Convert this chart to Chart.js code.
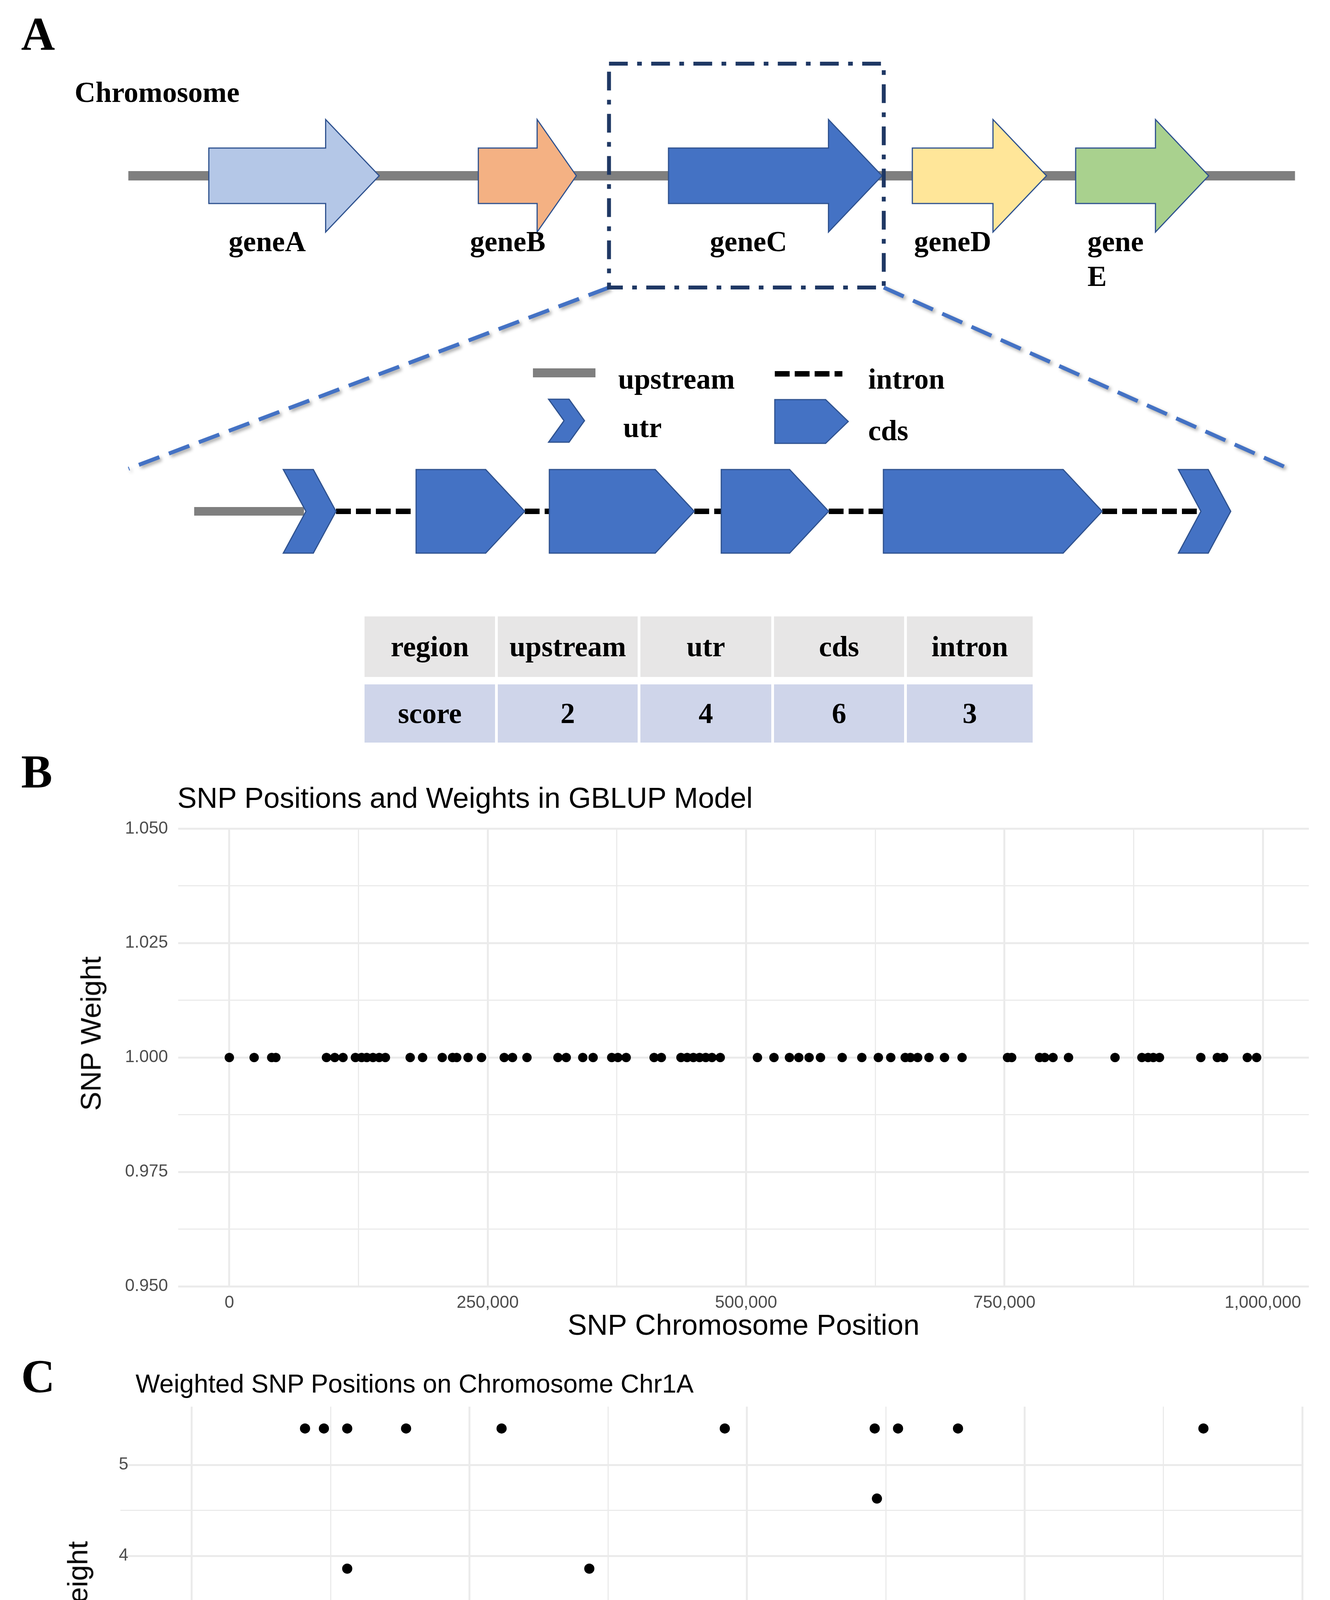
<!DOCTYPE html>
<html>
<head>
<meta charset="utf-8">
<title>SNP weights by region</title>
<script src="https://cdn.jsdelivr.net/npm/chart.js@4.4.1/dist/chart.umd.min.js"></script>
<style>
html,body{margin:0;padding:0;background:#fff;}
#page{position:relative;width:3404px;height:4992px;overflow:hidden;}
canvas{position:absolute;left:0;}
.lbl{position:absolute;font-family:"Liberation Serif","Times New Roman",serif;font-weight:bold;font-size:120px;line-height:1;color:#000;}
.ttl{position:absolute;font-family:"Liberation Sans",Arial,sans-serif;line-height:1;color:#000;white-space:nowrap;}
.ytl{position:absolute;font-family:"Liberation Sans",Arial,sans-serif;font-size:73px;line-height:1;color:#000;white-space:nowrap;transform:translate(-50%,-50%) rotate(-90deg);}
#tbl{position:absolute;left:933px;top:1578px;display:grid;grid-template-columns:334px 358px 335px 333px 322px;grid-template-rows:155px 149px;column-gap:7px;row-gap:19px;}
#tbl div{display:flex;align-items:center;justify-content:center;font-family:"Liberation Serif","Times New Roman",serif;font-weight:bold;font-size:74px;color:#000;}
#tbl .h{background:#e7e6e6;}
#tbl .s{background:#cfd5ea;}
</style>
</head>
<body>
<div id="page">
<canvas id="cA" width="3404" height="1500" style="top:0px"></canvas>
<canvas id="cB" width="3404" height="1384" style="top:2069px"></canvas>
<canvas id="cC" width="3404" height="1419" style="top:3561px"></canvas>
<div id="tbl"></div>
<div class="lbl" style="left:54px;top:27px">A</div>
<div class="lbl" style="left:54px;top:1916px">B</div>
<div class="lbl" style="left:54px;top:3464px">C</div>
<div class="ttl" style="left:454px;top:2006px;font-size:74px">SNP Positions and Weights in GBLUP Model</div>
<div class="ttl" style="left:347px;top:3509px;font-size:66px">Weighted SNP Positions on Chromosome Chr1A</div>
<div class="ytl" style="left:232px;top:2646px">SNP Weight</div>
<div class="ytl" style="left:198px;top:4143px">SNP Weight</div>
</div>
<script>
// ---- panel A: genes on the chromosome (kb) ----
const geneNames   = ['geneA', 'geneB', 'geneC', 'geneD', 'gene\nE'];
const geneStartKb = [6.9, 30.0, 46.3, 67.2, 81.2];
const geneEndKb   = [21.5, 38.4, 64.6, 78.7, 92.6];
const chromKb     = [0, 100];
const zoomKb      = [41.2, 64.75];

// geneC structure (bp from the upstream start)
const upstreamBp = [0, 281];
const utrBp      = [[228, 363], [2519, 2653]];
const cdsBp      = [[568, 846], [909, 1280], [1349, 1624], [1764, 2324]];
const intronBp   = [[363, 568], [846, 909], [1280, 1349], [1624, 1764], [2324, 2567]];

// region score table
const regionNames  = ['upstream', 'utr', 'cds', 'intron'];
const regionScores = [2, 4, 6, 3];

// ---- panel B: GBLUP weights ----
const weightLevelsB = [1.000];
const snpPosB = [[
  0, 24000, 41000, 45000, 94000, 102000, 110000, 122000, 128000, 133000, 139000, 145000, 151000,
  175000, 187000, 206000, 216000, 220000, 231000, 244000, 266000, 274000, 288000, 318000, 326000,
  342000, 352000, 370000, 376000, 384000, 411000, 418000, 437000, 443000, 449000, 455000, 461000,
  467000, 475000, 511000, 527000, 542000, 551000, 561000, 572000, 593000, 612000, 628000, 640000,
  654000, 659000, 666000, 677000, 692000, 709000, 753000, 757000, 784000, 789000, 797000, 812000,
  857000, 883000, 889000, 894000, 900000, 940000, 956000, 962000, 985000, 994000
]];

// ---- panel C: region weighted SNPs ----
const weightLevelsC = [5.40, 4.63, 3.86, 3.09, 2.32, 0.77];
const snpPosC = [
  [102000, 119000, 140000, 193000, 279000, 480000, 615000, 636000, 690000, 911000],
  [617000],
  [140000, 358000],
  [25000, 28000, 66000, 102000, 133000, 160000, 200000, 213000, 279000, 286000, 332000, 480000,
   591000, 600000, 655000, 684000, 700000, 750000, 797000, 866000, 875000, 879000],
  [46000, 58000, 124000, 244000, 592000, 611000, 616000, 710000, 761000, 874000, 911000],
  [0, 5000, 10000, 15000, 20000, 25000, 34000, 53000, 64000, 74000, 83000, 95000, 113000, 122000,
   130000, 141000, 148000, 174000, 193000, 200000, 207000, 214000, 224000, 246000, 253000, 273000,
   290000, 302000, 308000, 315000, 323000, 332000, 339000, 349000, 355000, 367000, 379000, 399000,
   406000, 414000, 425000, 433000, 448000, 455000, 463000, 470000, 486000, 501000, 518000, 527000,
   535000, 550000, 563000, 574000, 585000, 597000, 603000, 611000, 623000, 631000, 639000, 647000,
   660000, 668000, 677000, 685000, 693000, 701000, 709000, 718000, 732000, 739000, 745000, 753000,
   765000, 781000, 794000, 814000, 822000, 830000, 836000, 848000, 861000, 869000, 885000, 893000,
   902000, 911000, 923000, 931000, 942000, 950000]
];

const xGridTicks  = [0, 125000, 250000, 375000, 500000, 625000, 750000, 875000, 1000000];
const xLabelTicks = [0, 250000, 500000, 750000, 1000000];
const yTicksB = [0.95, 0.9625, 0.975, 0.9875, 1.0, 1.0125, 1.025, 1.0375, 1.05];
const yTicksC = [1, 1.5, 2, 2.5, 3, 3.5, 4, 4.5, 5];

// ---- styles ----
const geneFill = ['#b4c7e7', '#f4b183', '#4472c4', '#ffe699', '#a9d18e'];
const outline = '#2f528f';
const blue = '#4472c4';
const serif = '"Liberation Serif", "Times New Roman", serif';
const sans = '"Liberation Sans", Arial, sans-serif';
Chart.defaults.font.family = sans;

// table
const tbl = document.getElementById('tbl');
[['region', ...regionNames], ['score', ...regionScores]].forEach((row, r) => {
  row.forEach(t => {
    const d = document.createElement('div');
    d.className = r ? 's' : 'h';
    d.textContent = t;
    tbl.appendChild(d);
  });
});

function poly(ctx, pts, fill, stroke, lw) {
  ctx.beginPath();
  pts.forEach((p, i) => i ? ctx.lineTo(p[0], p[1]) : ctx.moveTo(p[0], p[1]));
  ctx.closePath();
  ctx.fillStyle = fill; ctx.fill();
  if (stroke) { ctx.strokeStyle = stroke; ctx.lineWidth = lw; ctx.lineJoin = 'miter'; ctx.stroke(); }
}
const arrowPts = (x0, x1, yc, bh, hh, hl) =>
  [[x0, yc - bh], [x1 - hl, yc - bh], [x1 - hl, yc - hh], [x1, yc], [x1 - hl, yc + hh], [x1 - hl, yc + bh], [x0, yc + bh]];
const pentPts = (x0, x1, yc, h, hl) => [[x0, yc - h], [x1 - hl, yc - h], [x1, yc], [x1 - hl, yc + h], [x0, yc + h]];
const chevPts = (x0, x1, yc, h) => {
  const a = (x1 - x0) * 0.57;
  return [[x0, yc - h], [x0 + a, yc - h], [x1, yc], [x0 + a, yc + h], [x0, yc + h], [x1 - a, yc]];
};
function dashLine(ctx, x0, y0, x1, y1, color, lw, dash) {
  ctx.save();
  ctx.strokeStyle = color; ctx.lineWidth = lw; ctx.setLineDash(dash); ctx.lineCap = 'butt';
  ctx.beginPath(); ctx.moveTo(x0, y0); ctx.lineTo(x1, y1); ctx.stroke();
  ctx.restore();
}

const geneDiagram = {
  id: 'geneDiagram',
  afterDraw(chart) {
    const ctx = chart.ctx;
    const X = v => chart.scales.x.getPixelForValue(v);
    const M = v => chart.scales.xm.getPixelForValue(v);
    const Y = v => chart.scales.y.getPixelForValue(v);
    ctx.save();

    // chromosome
    const cy = Y(450);
    ctx.fillStyle = '#7f7f7f';
    ctx.fillRect(X(chromKb[0]), cy - 12, X(chromKb[1]) - X(chromKb[0]), 24);
    ctx.font = 'bold 74px ' + serif;
    ctx.fillStyle = '#000'; ctx.textAlign = 'left'; ctx.textBaseline = 'alphabetic';
    ctx.fillText('Chromosome', 191, Y(261));

    // genes
    geneNames.forEach((name, i) => {
      const x0 = X(geneStartKb[i]), x1 = X(geneEndKb[i]);
      const hl = Math.min(137, 0.4 * (x1 - x0));
      poly(ctx, arrowPts(x0, x1, cy, 71, 144, hl), geneFill[i], outline, 3);
      const lines = name.split('\n');
      ctx.font = 'bold 74px ' + serif;
      ctx.fillStyle = '#000'; ctx.textAlign = 'left';
      const left = (x0 + x1 - hl) / 2 - ctx.measureText(lines[0]).width / 2;
      lines.forEach((t, k) => ctx.fillText(t, left, Y(643 + k * 89)));
    });

    // zoom lines (shadowed) and dash-dot box around geneC
    const bx0 = X(zoomKb[0]), bx1 = X(zoomKb[1]), by0 = Y(163), by1 = Y(736);
    ctx.save();
    ctx.shadowColor = 'rgba(0,0,0,0.35)'; ctx.shadowBlur = 8; ctx.shadowOffsetX = 5; ctx.shadowOffsetY = 5;
    dashLine(ctx, bx0, by1, M(upstreamBp[0] - 168), Y(1200), blue, 10, [56, 26]);
    dashLine(ctx, bx1, by1, M(utrBp[1][1] + 140), Y(1196), blue, 10, [56, 26]);
    ctx.restore();
    ctx.save();
    ctx.strokeStyle = '#1f3864'; ctx.lineWidth = 10; ctx.setLineDash([48, 24, 12, 24]);
    ctx.strokeRect(bx0, by0, bx1 - bx0, by1 - by0);
    ctx.restore();

    // legend
    ctx.fillStyle = '#7f7f7f';
    ctx.fillRect(1364, Y(943), 160, 23);
    dashLine(ctx, 1983, Y(957), 2156, Y(957), '#000', 14, [38, 13]);
    poly(ctx, chevPts(1404, 1496, Y(1077), 55), blue, outline, 3);
    poly(ctx, pentPts(1983, 2171, Y(1079), 56, 58), blue, outline, 3);
    ctx.font = 'bold 74px ' + serif; ctx.fillStyle = '#000'; ctx.textAlign = 'left';
    ctx.fillText('upstream', 1582, Y(995));
    ctx.fillText('intron', 2222, Y(995));
    ctx.fillText('utr', 1595, Y(1119));
    ctx.fillText('cds', 2222, Y(1127));

    // gene model
    const my = Y(1309);
    ctx.fillStyle = '#7f7f7f';
    ctx.fillRect(M(upstreamBp[0]), my - 11, M(upstreamBp[1]) - M(upstreamBp[0]), 22);
    intronBp.forEach(s => dashLine(ctx, M(s[0]), my, M(s[1]), my, '#000', 14, [38, 13]));
    utrBp.forEach(s => poly(ctx, chevPts(M(s[0]), M(s[1]), my, 107), blue, outline, 3));
    cdsBp.forEach(s => poly(ctx, pentPts(M(s[0]), M(s[1]), my, 107, 100), blue, outline, 3));
    ctx.restore();
  }
};

new Chart(document.getElementById('cA'), {
  type: 'scatter',
  data: { datasets: [] },
  options: {
    responsive: false, devicePixelRatio: 1, animation: false, events: [],
    layout: { padding: 0 },
    plugins: { legend: { display: false }, tooltip: { enabled: false } },
    scales: {
      x:  { type: 'linear', display: false, min: -11, max: 103 },
      xm: { type: 'linear', axis: 'x', display: false, min: -497, max: 2907 },
      y:  { type: 'linear', display: false, min: 0, max: 1500, reverse: true }
    }
  },
  plugins: [geneDiagram]
});

// ---- scatter panels ----
const gridColor = '#ebebeb';
const tickColor = '#4d4d4d';
const isMajorX = v => v % 250000 === 0;

function points(levels, sets) {
  const pts = [];
  sets.forEach((xs, i) => xs.forEach(x => pts.push({ x: x, y: levels[i] })));
  return pts;
}

function scatterOptions(cfg) {
  const scales = {
    x: {
      type: 'linear', position: 'bottom', bounds: 'data', min: cfg.xMin, max: cfg.xMax, weight: 0,
      afterBuildTicks: s => { s.ticks = xGridTicks.map(v => ({ value: v })); },
      afterFit: s => { s.height = cfg.xHeight; },
      grid: { color: gridColor, drawTicks: false, lineWidth: c => isMajorX(c.tick.value) ? 5 : 3 },
      border: cfg.bottomLine ? { display: true, color: gridColor, width: 5 } : { display: false },
      ticks: {
        display: cfg.xLabels, autoSkip: false, maxRotation: 0, padding: cfg.xPad,
        font: { size: 44 }, color: tickColor,
        callback: v => isMajorX(v) ? v.toLocaleString('en-US') : ''
      },
      title: cfg.xLabels ? {
        display: true, text: 'SNP Chromosome Position', color: '#000',
        font: { size: 74 }, padding: { top: 0, bottom: cfg.xTitlePad }
      } : { display: false }
    },
    y: {
      type: 'linear', bounds: 'data', min: cfg.yMin, max: cfg.yMax,
      afterBuildTicks: s => { s.ticks = cfg.yTicks.map(v => ({ value: v })); },
      afterFit: s => { s.width = cfg.yWidth; },
      grid: { color: gridColor, drawTicks: false, lineWidth: c => cfg.yMajor(c.tick.value) ? 5 : 3 },
      border: { display: false },
      ticks: {
        autoSkip: false, mirror: cfg.yMirror, padding: cfg.yPad, font: { size: 44 }, color: tickColor,
        callback: v => cfg.yMajor(v) ? cfg.yFmt(v) : ''
      }
    }
  };
  if (cfg.labelAxis) scales.x2 = cfg.labelAxis;
  return {
    responsive: false, devicePixelRatio: 1, animation: false, events: [],
    layout: { padding: cfg.padding },
    plugins: { legend: { display: false }, tooltip: { enabled: false } },
    scales: scales
  };
}

new Chart(document.getElementById('cB'), {
  type: 'scatter',
  data: { datasets: [{
    data: points(weightLevelsB, snpPosB),
    backgroundColor: '#000', borderWidth: 0, pointRadius: 12, pointHoverRadius: 12
  }] },
  options: scatterOptions({
    padding: { top: 40, left: 150, right: 54, bottom: 0 },
    xMin: -49500, xMax: 1044600, xHeight: 160, xLabels: true, xPad: 16, xTitlePad: 12,
    bottomLine: false,
    yMin: 0.95, yMax: 1.05, yTicks: yTicksB, yWidth: 306, yPad: 26, yMirror: false,
    yMajor: v => Math.abs(v * 40 - Math.round(v * 40)) < 1e-6,
    yFmt: v => v.toFixed(3)
  })
});

// panel C: its tick labels sit slightly inside the panel edge, so they are mirrored
new Chart(document.getElementById('cC'), {
  type: 'scatter',
  data: { datasets: [{
    data: points(weightLevelsC, snpPosC),
    backgroundColor: '#000', borderWidth: 0, pointRadius: 13, pointHoverRadius: 13
  }] },
  options: scatterOptions({
    padding: { top: 40, left: 120, right: 71, bottom: 0 },
    xMin: -64300, xMax: 1000000, xHeight: 0, xLabels: false, xPad: 0, xTitlePad: 0,
    bottomLine: true,
    yMin: 0.554, yMax: 5.64, yTicks: yTicksC, yWidth: 188, yPad: -4, yMirror: true,
    yMajor: v => Number.isInteger(v),
    yFmt: v => String(v),
    labelAxis: {
      type: 'linear', position: 'bottom', bounds: 'data', min: -64600, max: 1059000, weight: 1,
      afterBuildTicks: s => { s.ticks = xLabelTicks.map(v => ({ value: v })); },
      afterFit: s => { s.height = 194; },
      grid: { display: false, drawTicks: false },
      border: { display: false },
      ticks: {
        autoSkip: false, maxRotation: 0, padding: 48, font: { size: 44 }, color: tickColor,
        callback: v => v.toLocaleString('en-US')
      },
      title: {
        display: true, text: 'SNP Chromosome Position', color: '#000',
        font: { size: 74 }, padding: { top: 0, bottom: 14 }
      }
    }
  })
});
</script>
</body>
</html>
